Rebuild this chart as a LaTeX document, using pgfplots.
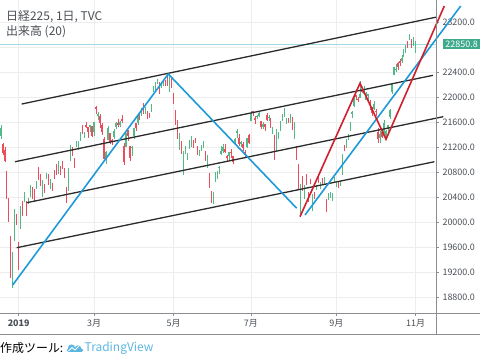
\documentclass[border=0pt]{standalone}
\usepackage{pgfplots}
\pgfplotsset{compat=1.18}
\usepackage{pgfplotstable}
\usepackage{fontspec}
\setmainfont{Noto Sans CJK JP}
\definecolor{upc}{HTML}{53B987}
\definecolor{dnc}{HTML}{EB4D5C}
\definecolor{tvblue}{HTML}{1E9AD8}
\definecolor{tvred}{HTML}{D0202E}
\definecolor{chan}{HTML}{2B2B2B}
\definecolor{pxline}{HTML}{9ED9E6}
\definecolor{lbl}{HTML}{4A4F55}
\definecolor{lastbox}{HTML}{3FA98C}
\definecolor{tvlogo}{HTML}{5DB6E0}
\definecolor{frame}{HTML}{8A8E92}

\pgfplotstableread{
i O H L C
-9 21380 21560 21330 21506
-8 21250 21270 21080 21115
-7 21160 21210 20970 20987
-6 20810 20830 20370 20392
-5 20310 20390 20006 20166
-4 19785 19785 19117 19155
-3 19302 19530 18948 19327
-2 19706 20211 19701 20077
-1 20139 20139 19960 20015
0 19655 19692 19241 19561
1 19944 20266 19896 20038
2 20224 20347 20106 20204
3 20366 20494 20331 20427
4 20270 20345 20101 20163
5 20296 20389 20294 20359
6 20437 20600 20412 20555
7 20481 20564 20374 20442
8 20453 20536 20331 20402
9 20536 20666 20530 20666
10 20760 20892 20677 20719
11 20750 20770 20580 20622
12 20475 20676 20403 20593
13 20612 20622 20469 20574
14 20713 20798 20701 20773
15 20757 20782 20599 20649
16 20573 20696 20529 20664
17 20614 20626 20504 20556
18 20781 20832 20698 20773
19 20797 20929 20764 20788
20 20831 20981 20777 20883
21 20847 20897 20766 20844
22 20952 20981 20860 20874
23 20863 20868 20715 20751
24 20522 20570 20315 20333
25 20500 20875 20497 20864
26 21018 21235 20983 21144
27 21158 21213 21064 21139
28 21002 21027 20876 20900
29 21217 21302 21217 21281
30 21228 21303 21164 21302
31 21346 21444 21308 21431
32 21470 21553 21406 21464
33 21383 21451 21348 21425
34 21558 21610 21513 21528
35 21513 21529 21351 21449
36 21524 21556 21446 21556
37 21536 21536 21364 21385
38 21443 21602 21376 21602
39 21838 21860 21736 21822
40 21702 21770 21641 21726
41 21698 21735 21513 21596
42 21559 21593 21403 21456
43 21331 21361 21017 21025
44 21034 21139 20938 21125
45 21322 21543 21322 21503
46 21425 21425 21250 21290
47 21320 21336 21244 21287
48 21376 21488 21340 21451
49 21528 21605 21497 21584
50 21591 21653 21522 21566
51 21554 21621 21524 21608
52 21640 21713 21591 21627
53 21215 21262 20911 20977
54 21204 21428 21204 21428
55 21478 21484 21298 21378
56 21220 21220 20974 21033
57 21192 21227 21059 21205
58 21390 21509 21339 21509
59 21577 21579 21460 21505
60 21596 21734 21549 21713
61 21766 21766 21644 21724
62 21727 21831 21706 21807
63 21834 21900 21728 21761
64 21791 21846 21728 21802
65 21742 21787 21648 21687
66 21732 21750 21669 21711
67 21792 21889 21761 21870
68 22098 22170 22079 22169
69 22149 22238 22121 22221
70 22264 22288 22208 22277
71 22239 22239 22057 22090
72 22162 22213 22145 22200
73 22199 22279 22184 22218
74 22263 22282 22181 22259
75 22326 22362 22181 22200
76 22164 22338 22089 22307
77 22288 22327 22145 22258
78 22070 22072 21889 21923
79 21790 21798 21552 21602
80 21549 21633 21337 21402
81 21182 21426 21165 21344
82 21284 21298 21097 21191
83 20881 21136 20751 21067
84 21165 21227 21100 21188
85 21053 21112 20992 21062
86 21246 21310 21180 21250
87 21220 21388 21212 21301
88 21291 21318 21183 21272
89 21330 21350 21265 21283
90 21175 21214 21074 21151
91 21074 21156 21056 21117
92 21160 21241 21149 21182
93 21255 21295 21194 21260
94 21106 21141 20985 21003
95 20909 21070 20867 20942
96 20770 20791 20553 20601
97 20484 20510 20305 20410
98 20354 20480 20289 20408
99 20718 20800 20653 20776
100 20704 20822 20690 20774
101 20881 20905 20781 20884
102 21094 21218 21082 21134
103 21150 21259 21106 21204
104 21174 21259 21110 21129
105 21056 21079 20979 21032
106 21069 21119 20988 21116
107 21127 21170 21030 21124
108 21051 21051 20938 20972
109 21289 21353 21261 21333
110 21438 21491 21345 21462
111 21338 21406 21229 21258
112 21259 21299 21208 21285
113 21243 21282 21148 21193
114 21124 21161 21040 21086
115 21209 21338 21183 21338
116 21388 21410 21253 21275
117 21620 21784 21620 21729
118 21770 21784 21693 21754
119 21657 21704 21566 21638
120 21693 21717 21651 21702
121 21702 21758 21677 21746
122 21620 21621 21490 21534
123 21532 21600 21486 21565
124 21564 21578 21464 21533
125 21706 21740 21620 21643
126 21670 21712 21624 21685
127 21657 21665 21516 21535
128 21459 21529 21412 21469
129 21339 21390 20993 21046
130 21144 21493 21138 21466
131 21396 21443 21336 21416
132 21485 21627 21459 21620
133 21650 21735 21625 21709
134 21711 21823 21691 21756
135 21606 21675 21570 21658
136 21663 21675 21585 21616
137 21644 21729 21587 21709
138 21676 21676 21475 21521
139 21361 21607 21330 21540
140 21211 21211 21002 21087
141 20886 20941 20514 20720
142 20346 20612 20110 20585
143 20677 20742 20501 20516
144 20512 20600 20380 20593
145 20694 20779 20591 20684
146 20473 20480 20322 20455
147 20674 20700 20609 20655
148 20325 20462 20184 20405
149 20470 20495 20378 20418
150 20543 20603 20516 20563
151 20694 20723 20628 20677
152 20561 20648 20531 20618
153 20694 20708 20621 20628
154 20597 20720 20593 20710
155 20310 20368 20173 20261
156 20382 20470 20366 20456
157 20445 20481 20395 20479
158 20371 20467 20347 20460
159 20643 20723 20629 20704
160 20600 20641 20561 20620
161 20638 20660 20550 20625
162 20602 20668 20584 20649
163 20780 21095 20754 21085
164 21206 21231 21136 21199
165 21228 21335 21188 21318
166 21371 21420 21324 21392
167 21472 21612 21457 21597
168 21740 21783 21673 21759
169 21868 22019 21851 21988
170 22037 22041 21962 22001
171 21968 22010 21929 21960
172 21992 22255 21987 22044
173 22103 22156 22066 22079
174 22056 22183 22047 22098
175 21965 22086 21951 22020
176 22029 22058 21962 22048
177 21924 21953 21794 21878
178 21843 21843 21699 21755
179 21817 21938 21792 21885
180 21779 21806 21693 21778
181 21447 21511 21276 21341
182 21357 21466 21263 21410
183 21447 21473 21354 21375
184 21430 21636 21415 21587
185 21337 21471 21337 21456
186 21497 21551 21424 21551
187 21687 21815 21645 21798
188 22079 22220 22046 22207
189 22356 22480 22355 22472
190 22433 22523 22410 22451
191 22549 22561 22437 22492
192 22573 22606 22490 22548
193 22582 22668 22541 22625
194 22673 22777 22648 22750
195 22725 22830 22712 22799
196 22878 22896 22783 22867
197 22925 23008 22907 22974
198 22930 22936 22779 22843
199 22856 22961 22818 22927
200 22837 22900 22702 22851
}\ohlc

\begin{document}
\begin{tikzpicture}[x=1bp,y=1bp]
\path[use as bounding box] (0,0) rectangle (480,357);
\begin{axis}[
  at={(0bp,44bp)}, anchor=south west,
  scale only axis, width=436bp, height=313bp,
  xmin=-9.42, xmax=210.23, ymin=18556, ymax=23551,
  clip=false,
  axis line style={draw=none},
  grid=major, major grid style={color=black!7, line width=0.5bp},
  xtick={0,38,78,117,160,200},
  xticklabels={\textbf{2019},3月,5月,7月,9月,11月},
  ytick={18800,19200,19600,20000,20400,20800,21200,21600,22000,22400,23200},
  extra y ticks={22800}, extra y tick labels={},
  extra tick style={major tick length=0bp, grid=major},
  scaled y ticks=false,
  ytick pos=right, xtick pos=bottom, tick align=outside,
  yticklabel pos=right,
  major tick length=3bp,
  tick style={color=frame, line width=0.6bp},
  tick label style={font=\fontsize{9}{10}\selectfont, color=lbl},
  y tick label style={/pgf/number format/.cd, fixed, fixed zerofill, precision=1, 1000 sep={}, assume math mode=true},
]
% last price line
\addplot[pxline, line width=0.6bp, forget plot] coordinates {(-9.42,22850.8) (210.23,22850.8)};
% wicks
\addplot[draw=none, forget plot, x filter/.expression={\thisrow{C}>=\thisrow{O} ? x : nan},
  error bars/.cd, y dir=both, y explicit, error mark=none,
  error bar style={draw=upc, solid, line width=0.6bp}]
  table[x=i, y expr={(\thisrow{H}+\thisrow{L})/2}, y error expr={(\thisrow{H}-\thisrow{L})/2}] {\ohlc};
\addplot[draw=none, forget plot, x filter/.expression={\thisrow{C}<\thisrow{O} ? x : nan},
  error bars/.cd, y dir=both, y explicit, error mark=none,
  error bar style={draw=dnc, solid, line width=0.6bp}]
  table[x=i, y expr={(\thisrow{H}+\thisrow{L})/2}, y error expr={(\thisrow{H}-\thisrow{L})/2}] {\ohlc};
% bodies
\addplot[draw=none, forget plot, x filter/.expression={\thisrow{C}>=\thisrow{O} ? x : nan},
  error bars/.cd, y dir=both, y explicit, error mark=none,
  error bar style={draw=upc, solid, line width=1.4bp}]
  table[x=i, y expr={(\thisrow{O}+\thisrow{C})/2}, y error expr={abs(\thisrow{C}-\thisrow{O})/2+4}] {\ohlc};
\addplot[draw=none, forget plot, x filter/.expression={\thisrow{C}<\thisrow{O} ? x : nan},
  error bars/.cd, y dir=both, y explicit, error mark=none,
  error bar style={draw=dnc, solid, line width=1.4bp}]
  table[x=i, y expr={(\thisrow{O}+\thisrow{C})/2}, y error expr={abs(\thisrow{C}-\thisrow{O})/2+4}] {\ohlc};
% channel lines
\addplot[chan, line width=1.3bp] coordinates {(1.51,21891) (210.7,23280)};
\addplot[chan, line width=1.3bp] coordinates {(-1.86,20970) (208.7,22349)};
\addplot[chan, line width=1.3bp] coordinates {(4.03,20316) (213.9,21689)};
\addplot[chan, line width=1.3bp] coordinates {(-1.01,19598) (209.4,20970)};
% blue lines
\addplot[tvblue, line width=1.6bp] coordinates {(-3.02,19003) (75.37,22370) (140.05,20227)};
\addplot[tvblue, line width=1.6bp] coordinates {(144.23,20120) (222.67,23455)};
% red line
\addplot[tvred, line width=1.6bp] coordinates {(141.71,20093) (171.94,22222) (185.04,21328) (214.41,23455)};
\end{axis}
% frame
\draw[frame, line width=0.8bp] (0,44) -- (480,44);
\draw[frame, line width=0.8bp] (0,23) -- (480,23);
\draw[frame, line width=0.8bp] (436,357) -- (436,23);
% last price box
\node[fill=lastbox, text=white, anchor=west, inner sep=0pt, minimum height=10.3bp, minimum width=37.3bp,
  font=\fontsize{9}{10}\selectfont] at (442.7,312.9) {22850.8};
% titles
\node[anchor=west, inner sep=0pt, text=lbl, font=\fontsize{12}{14}\selectfont] at (6,340) {日経225, 1日, TVC};
\node[anchor=west, inner sep=0pt, text=lbl, font=\fontsize{12}{14}\selectfont] at (6,325.5) {出来高 (20)};
% footer
\node[anchor=west, inner sep=0pt, text=black, font=\fontsize{12}{14}\selectfont] at (0,9) {作成ツール:};
\fill[tvlogo] (68,5) rectangle (82,8.5);
\fill[tvlogo] (71.5,9) circle (3.6);
\fill[tvlogo] (78,8.5) circle (3.2);
\fill[tvlogo] (68.5,6.8) circle (1.8);
\fill[tvlogo] (81.5,6.8) circle (1.8);
\draw[white, line width=0.9bp] (68.5,6) -- (72,9.5) -- (75,7) -- (79,11);
\node[anchor=west, inner sep=0pt, text=tvlogo, font=\fontsize{12}{14}\selectfont] at (84.5,9) {TradingView};
\end{tikzpicture}
\end{document}
